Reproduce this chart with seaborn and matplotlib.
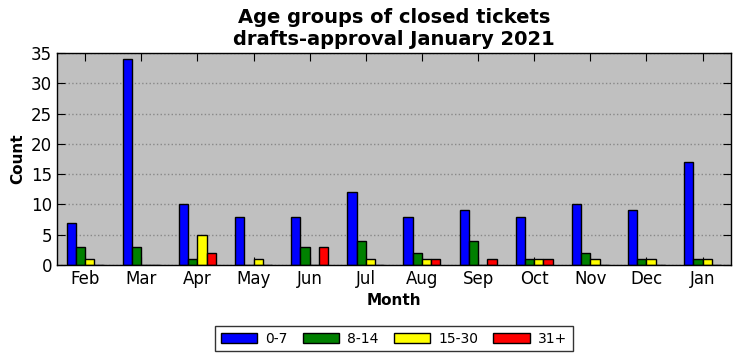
import matplotlib
matplotlib.use("Agg")
import matplotlib.pyplot as plt
import pandas as pd
import seaborn as sns

months = ["Feb", "Mar", "Apr", "May", "Jun", "Jul", "Aug", "Sep", "Oct", "Nov", "Dec", "Jan"]
groups = ["0-7", "8-14", "15-30", "31+"]
age_0_7 = [7, 34, 10, 8, 8, 12, 8, 9, 8, 10, 9, 17]
age_8_14 = [3, 3, 1, 0, 3, 4, 2, 4, 1, 2, 1, 1]
age_15_30 = [1, 0, 5, 1, 0, 1, 1, 0, 1, 1, 1, 1]
age_31 = [0, 0, 2, 0, 3, 0, 1, 1, 1, 0, 0, 0]
colors = ["blue", "green", "yellow", "red"]

series = [age_0_7, age_8_14, age_15_30, age_31]
rows = []
for g, vals in zip(groups, series):
    for m, v in zip(months, vals):
        rows.append({"Month": m, "Age": g, "Count": v})
df = pd.DataFrame(rows)

sns.set_style("ticks")
plt.rcParams.update({
    "font.family": ["DejaVu Sans"],
    "text.color": "black",
    "axes.labelcolor": "black",
    "xtick.color": "black",
    "ytick.color": "black",
    "axes.edgecolor": "black",
    "axes.linewidth": 1.0,
    "xtick.direction": "in",
    "ytick.direction": "in",
    "xtick.top": True,
    "ytick.right": True,
})

fig, ax = plt.subplots(figsize=(7.41, 3.61), dpi=100)
fig.subplots_adjust(left=0.077, right=0.986, top=0.853, bottom=0.266)
ax.set_facecolor("#c0c0c0")

sns.barplot(data=df, x="Month", y="Count", hue="Age", order=months, hue_order=groups,
            palette=colors, width=0.66, edgecolor="black", linewidth=1.0,
            saturation=1, ax=ax, zorder=2)

ax.set_xlim(-0.5, 11.5)
ax.set_ylim(0, 35)
ax.set_yticks(range(0, 36, 5))
ax.yaxis.grid(True, linestyle=":", color="#888888", linewidth=1.0, zorder=0)
ax.set_axisbelow(True)
ax.tick_params(axis="both", labelsize=12, length=6, color="black")
ax.set_xlabel("Month", fontsize=11, fontweight="bold")
ax.set_ylabel("Count", fontsize=11, fontweight="bold")
ax.set_title("Age groups of closed tickets\ndrafts-approval January 2021",
             fontsize=14, fontweight="bold", color="black")

ax.legend(loc="upper center", bbox_to_anchor=(0.5, -0.255), ncol=4, fontsize=10,
          frameon=True, fancybox=False, edgecolor="black", handlelength=2.6,
          handletextpad=0.6, columnspacing=1.1, borderpad=0.4)
ax.get_legend().get_frame().set_linewidth(1.0)

fig.savefig("out.png", dpi=100, facecolor="white")
